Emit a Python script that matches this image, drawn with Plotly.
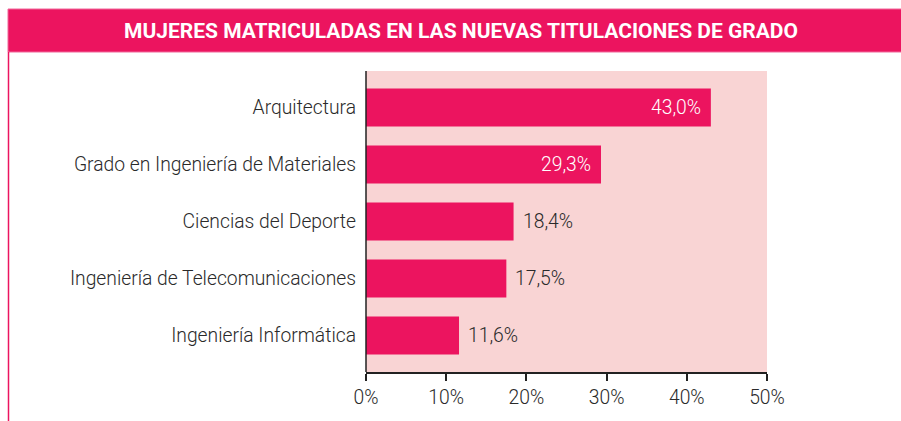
import plotly.graph_objects as go

categories = ["Arquitectura", "Grado en Ingeniería de Materiales", "Ciencias del Deporte",
              "Ingeniería de Telecomunicaciones", "Ingeniería Informática"]
values = [43.0, 29.3, 18.4, 17.5, 11.6]
value_labels = ["43,0%", "29,3%", "18,4%", "17,5%", "11,6%"]
inside_flags = [True, True, False, False, False]
tick_vals = [0, 10, 20, 30, 40, 50]
tick_text = ["0%", "10%", "20%", "30%", "40%", "50%"]
title_text = "MUJERES MATRICULADAS EN LAS NUEVAS TITULACIONES DE GRADO"

PINK = "#EC145F"
BG = "#F9D4D4"
TXT = "#2a2a2a"
FONT = "Roboto"
FS = 19.3
WT = 300

W, H = 901, 421
L, R, T, B = 366, 134, 71, 49
pw, ph = W - L - R, H - T - B

def px(x):
    return (x - L) / pw

def py(y):
    return (H - B - y) / ph

fig = go.Figure(go.Bar(
    x=values, y=categories, orientation="h",
    marker=dict(color=PINK, line=dict(width=0)),
    width=0.67, hoverinfo="skip",
))

annotations = []
for c, v, lab, ins in zip(categories, values, value_labels, inside_flags):
    annotations.append(dict(
        x=v, y=c, xref="x", yref="y", text=lab, showarrow=False,
        xanchor="right" if ins else "left",
        xshift=-8 if ins else 7,
        font=dict(family=FONT, size=FS, weight=WT, color="white" if ins else TXT),
    ))

annotations.append(dict(
    x=px(461), y=py(31), xref="paper", yref="paper",
    text="<b>" + title_text + "</b>", showarrow=False,
    xanchor="center", yanchor="middle",
    font=dict(family=FONT, size=21, color="white"),
))

shapes = [
    dict(type="rect", xref="paper", yref="paper",
         x0=px(8), x1=px(905), y0=py(52), y1=py(9),
         fillcolor=PINK, line=dict(width=1, color="#F0669A"), layer="below"),
    dict(type="line", xref="paper", yref="paper",
         x0=px(8.5), x1=px(8.5), y0=py(52), y1=py(425),
         line=dict(width=1.5, color=PINK)),
    dict(type="line", xref="paper", yref="paper",
         x0=0, x1=0, y0=0, y1=1, line=dict(width=1.5, color="#222222")),
]

fig.update_layout(
    width=W, height=H,
    margin=dict(l=L, r=R, t=T, b=B, pad=0),
    paper_bgcolor="white", plot_bgcolor=BG,
    showlegend=False,
    font=dict(family=FONT, size=FS, color=TXT),
    annotations=annotations, shapes=shapes,
    xaxis=dict(range=[0, 50], tickvals=tick_vals, ticktext=tick_text,
               showgrid=False, zeroline=False, showline=True,
               linecolor="#222222", linewidth=1.5,
               ticks="outside", ticklen=7, tickcolor="#222222", tickwidth=1.5,
               tickfont=dict(family=FONT, size=FS, weight=WT, color=TXT), fixedrange=True),
    yaxis=dict(categoryorder="array", categoryarray=categories,
               autorange=False, range=[4.64, -0.64],
               showgrid=False, zeroline=False, showline=False, ticks="",
               ticklabelstandoff=9,
               tickfont=dict(family=FONT, size=FS, weight=WT, color=TXT), fixedrange=True),
)

fig.write_html("out.html", config={"displayModeBar": False},
               post_script="document.body.style.margin='0';document.body.style.overflow='hidden';")
